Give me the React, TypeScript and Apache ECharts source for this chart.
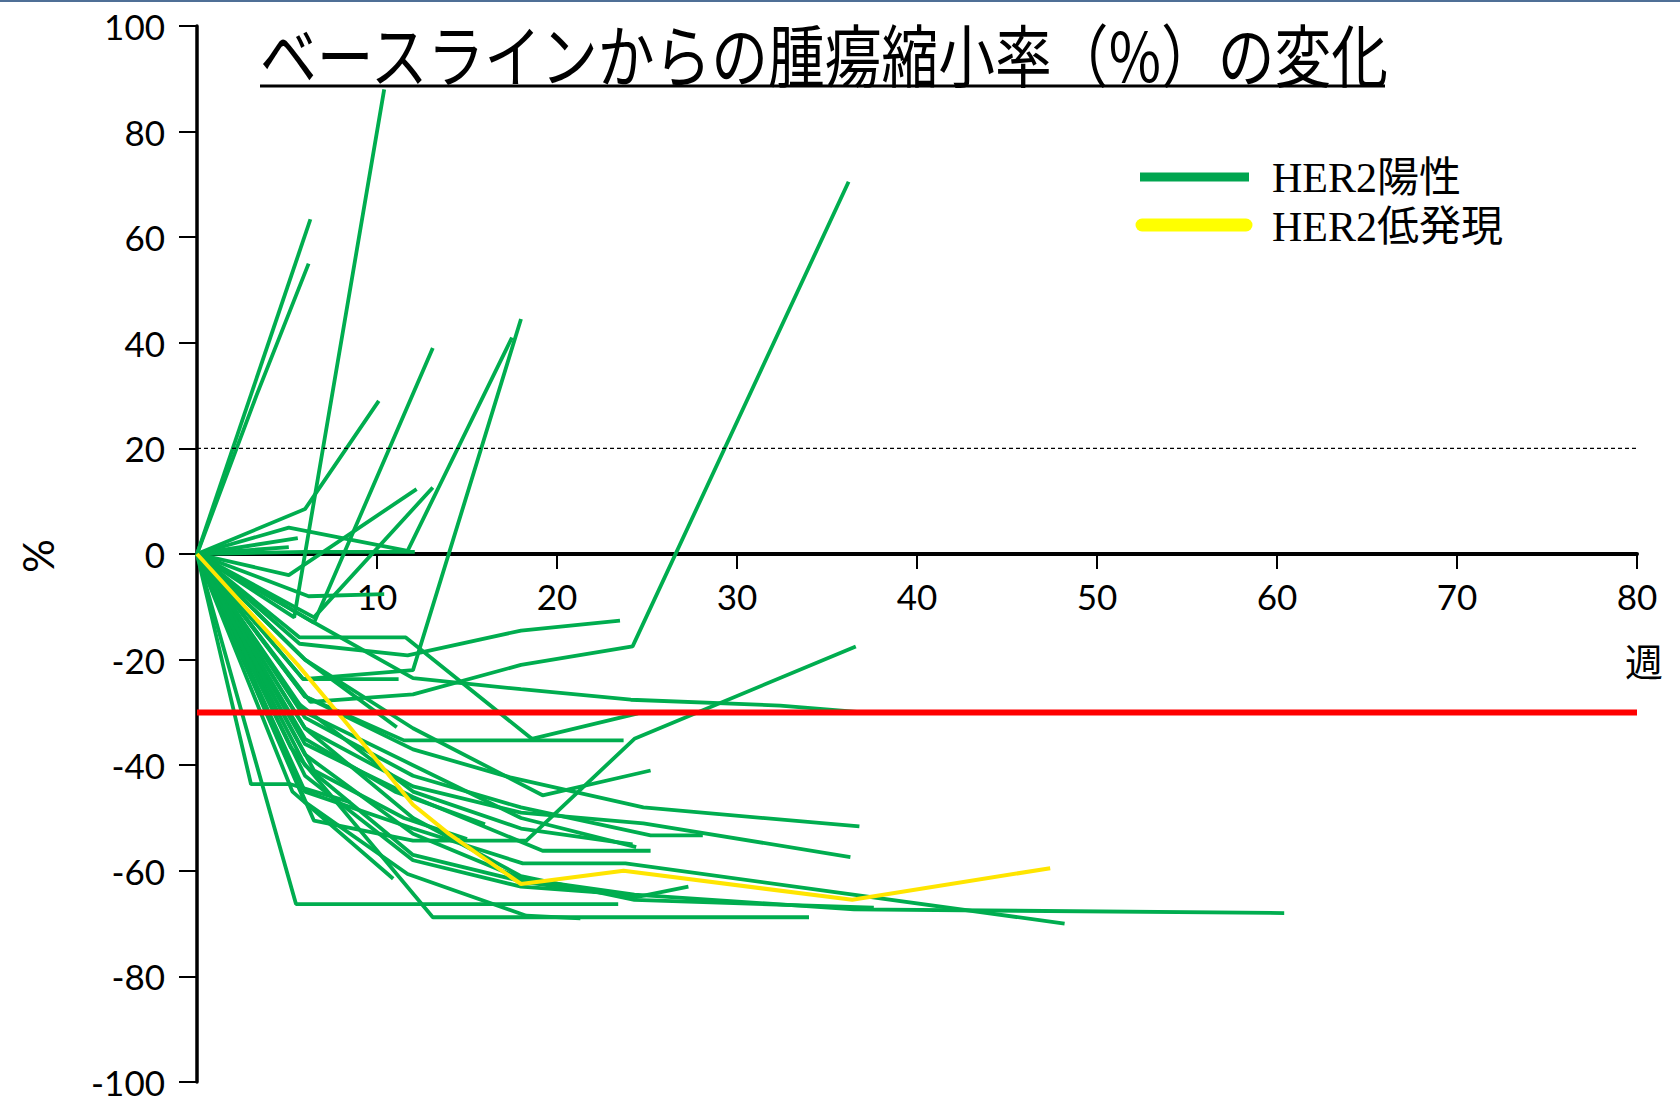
import React, { useEffect, useRef } from "react";
import * as echarts from "echarts";

// ---- Data: [week, % change from baseline] ----
const p01 = [[0, 0], [6.3, 63.4]];
const p02 = [[0, 0], [3.3, 30], [6.2, 55]];
const p03 = [[0, 0], [5.4, -12], [10.4, 88]];
const p04 = [[0, 0], [6, 8.5], [10.1, 29]];
const p05 = [[0, 0], [6.5, -13], [13.1, 39]];
const p06 = [[0, 0], [5.1, -4], [12.2, 12.3]];
const p07 = [[0, 0], [6.5, -12], [13.1, 12.6]];
const p08 = [[0, 0], [5.1, 5], [11.7, 0.6], [17.5, 41]];
const p09 = [[0, 0], [5.9, -23.7], [12, -22], [18, 44.5]];
const p10 = [[0, 0], [6.3, -28], [12, -26.6], [18, -21], [24.2, -17.5], [36.2, 70.5]];
const p11 = [[0, 0], [6.2, -8], [10.4, -7.6]];
const p12 = [[0, 0], [5.1, 1.3]];
const p13 = [[0, 0], [5.6, 3]];
const p14 = [[0, 0], [6, 0.4], [12.1, 0.4]];
const p15 = [[0, 0], [5.7, -15.8], [11.6, -15.8], [18.6, -35], [24.5, -30.2]];
const p16 = [[0, 0], [5.7, -17], [11.7, -19.2], [18, -14.5], [23.5, -12.6]];
const p17 = [[0, 0], [6.3, -12.6], [12, -23.5], [18, -25.6], [24.1, -27.6], [32.4, -28.7], [37, -30]];
const p18 = [[0, 0], [5.9, -23.7], [11.2, -23.7]];
const p19 = [[0, 0], [6, -27], [11.5, -35.3], [23.7, -35.3]];
const p20 = [[0, 0], [6.5, -50.5], [12, -54.3], [18.3, -54.3], [24.3, -35], [36.6, -17.5]];
const p21 = [[0, 0], [6, -20], [12, -33], [19.2, -45.7], [25.2, -41]];
const p22 = [[0, 0], [6, -27], [12, -37], [17.4, -42.3], [24.8, -48], [36.8, -51.6]];
const p23 = [[0, 0], [6, -31], [12, -42], [18, -48], [25.2, -53.3], [28.1, -53.3]];
const p24 = [[0, 0], [6, -33], [12, -44], [18, -49], [24.8, -51], [36.3, -57.4]];
const p25 = [[0, 0], [6, -36], [12, -46], [19.2, -56.2], [25.2, -56.2]];
const p26 = [[0, 0], [6, -30], [12, -40], [18, -50], [24.4, -55.5]];
const p27 = [[0, 0], [6, -45], [12, -52], [18.1, -58.6], [23.8, -58.6], [48.2, -70]];
const p28 = [[0, 0], [6, -40], [12, -57], [18.3, -62.2], [24.4, -65], [27.3, -63]];
const p29 = [[0, 0], [5.5, -66.3], [23.4, -66.3]];
const p30 = [[0, 0], [5.2, -36.6], [13.1, -68.8], [34, -68.8]];
const p31 = [[0, 0], [3, -43.6], [5.2, -43.6], [8.5, -47]];
const p32 = [[0, 0], [6, -47], [11.7, -60.6], [18.3, -68.5], [21.3, -69]];
const p33 = [[0, 0], [6, -33], [12, -50], [18, -61], [24.3, -65.5], [37.6, -67]];
const p34 = [[0, 0], [6, -38], [12, -53], [18, -61.5], [24.3, -64.5], [36.5, -67.3], [60.4, -68]];
const p35 = [[0, 0], [6, -35], [11, -45], [16, -51.2]];
const p36 = [[0, 0], [5.3, -45], [10.9, -61.5]];
const p37 = [[0, 0], [6, -20], [11.1, -32.8]];
const p38 = [[0, 0], [6, -42], [12, -58], [18, -63], [24, -64.5]];
const p39 = [[0, 0], [5.5, -28], [12, -45], [18, -52], [24.2, -55]];
const p40 = [[0, 0], [6.5, -41], [11.5, -50], [15, -54]];

const her2Positive = [
  p01, p02, p03, p04, p05, p06, p07, p08, p09, p10,
  p11, p12, p13, p14, p15, p16, p17, p18, p19, p20,
  p21, p22, p23, p24, p25, p26, p27, p28, p29, p30,
  p31, p32, p33, p34, p35, p36, p37, p38, p39, p40,
];

const her2Low = [
  [0, 0], [5.6, -21], [8.3, -32], [12, -47.5], [14, -53], [18, -62.5],
  [23.7, -60], [36.4, -65.5], [47.4, -59.5],
];

const responseLine = [[0, -30], [80, -30]];
const progressionLine = [[0, 20], [80, 20]];

const xTicks = [0, 10, 20, 30, 40, 50, 60, 70, 80];
const yTicks = [-100, -80, -60, -40, -20, 0, 20, 40, 60, 80, 100];

const titleText = "ベースラインからの腫瘍縮小率（%）の変化";
const legendPositive = "HER2陽性";
const legendLow = "HER2低発現";
const xName = "週";
const yName = "%";

const GREEN = "#00AD4F";
const YELLOW = "#FFE500";

export default function App() {
  const ref = useRef<HTMLDivElement>(null);

  useEffect(() => {
    if (!ref.current) return;
    const chart = echarts.init(ref.current, undefined, { renderer: "svg" });

    const gridTop = 26;
    const gridBottom = 21;
    const gridHeight = 1103 - gridTop - gridBottom;
    const zeroOffset = -gridHeight / 2; // x axis sits on y = 0 (middle of -100..100)

    const series: any[] = [];
    her2Positive.forEach((d) => {
      series.push({
        name: legendPositive,
        type: "line",
        data: d,
        symbol: "none",
        lineStyle: { color: GREEN, width: 3.8 },
        z: 3,
      });
    });
    series.push({
      name: legendLow,
      type: "line",
      data: her2Low,
      symbol: "none",
      lineStyle: { color: YELLOW, width: 4 },
      z: 4,
    });
    series.push({
      name: "progression",
      type: "line",
      data: progressionLine,
      symbol: "none",
      lineStyle: { color: "#000", width: 1.2, type: [4, 3] },
      z: 5,
    });
    series.push({
      name: "response",
      type: "line",
      data: responseLine,
      symbol: "none",
      lineStyle: { color: "#FF0000", width: 6 },
      z: 6,
    });

    const labelFont = "Lato";

    chart.setOption({
      animation: false,
      backgroundColor: "#fff",
      grid: {
        left: 197,
        right: 43,
        top: gridTop,
        bottom: gridBottom,
        containLabel: false,
        outerBoundsMode: "none",
      },
      xAxis: {
        type: "value",
        min: xTicks[0],
        max: xTicks[xTicks.length - 1],
        interval: 10,
        position: "bottom",
        offset: zeroOffset,
        axisLine: { onZero: false, lineStyle: { color: "#000", width: 4 } },
        axisTick: { show: true, length: 15, lineStyle: { color: "#000", width: 2 } },
        axisLabel: {
          color: "#000",
          fontFamily: labelFont,
          fontSize: 35,
          lineHeight: 36,
          margin: 24,
          showMaxLabel: true,
          formatter: (v: number) => (v === 0 ? "" : String(v)),
        },
        splitLine: { show: false },
      },
      yAxis: {
        type: "value",
        min: yTicks[0],
        max: yTicks[yTicks.length - 1],
        interval: 20,
        axisLine: { show: true, onZero: false, lineStyle: { color: "#000", width: 3.5 } },
        axisTick: { show: true, length: 18, lineStyle: { color: "#000", width: 2 } },
        axisLabel: {
          color: "#000",
          fontFamily: labelFont,
          fontSize: 35,
          lineHeight: 36,
          margin: 32,
        },
        splitLine: { show: false },
      },
      graphic: [
        {
          type: "rect",
          shape: { x: 0, y: 0, width: 1680, height: 2 },
          style: { fill: "#4F6F96" },
          silent: true,
        },
        {
          type: "text",
          x: 260,
          y: 52,
          scaleX: 0.835,
          style: {
            text: titleText,
            font: '68px "Noto Sans CJK JP"',
            fill: "#000",
            verticalAlign: "middle",
            align: "left",
          },
        },
        {
          type: "line",
          shape: { x1: 260, y1: 86, x2: 1385, y2: 86 },
          style: { stroke: "#000", lineWidth: 3 },
        },
        {
          type: "line",
          shape: { x1: 1140, y1: 177, x2: 1249, y2: 177 },
          style: { stroke: "#00A550", lineWidth: 9 },
        },
        {
          type: "line",
          shape: { x1: 1142, y1: 225, x2: 1246, y2: 225 },
          style: { stroke: "#FFFF00", lineWidth: 13, lineCap: "round" },
        },
        {
          type: "text",
          x: 1272,
          y: 178,
          style: {
            text: legendPositive,
            font: '42px "Liberation Serif", "Noto Sans CJK JP"',
            fill: "#000",
            verticalAlign: "middle",
          },
        },
        {
          type: "text",
          x: 1272,
          y: 227,
          style: {
            text: legendLow,
            font: '42px "Liberation Serif", "Noto Sans CJK JP"',
            fill: "#000",
            verticalAlign: "middle",
          },
        },
        {
          type: "text",
          x: 1644,
          y: 659,
          style: {
            text: xName,
            font: '38px "Noto Sans CJK JP"',
            fill: "#000",
            align: "center",
            verticalAlign: "middle",
          },
        },
        {
          type: "text",
          x: 38,
          y: 556,
          rotation: Math.PI / 2,
          style: {
            text: yName,
            font: "42px Lato",
            fill: "#000",
            align: "center",
            verticalAlign: "middle",
          },
        },
      ],
      series,
    });

    return () => chart.dispose();
  }, []);

  return (
    <div
      ref={ref}
      style={{ position: "fixed", left: 0, top: 0, width: 1680, height: 1103, background: "#fff" }}
    />
  );
}
